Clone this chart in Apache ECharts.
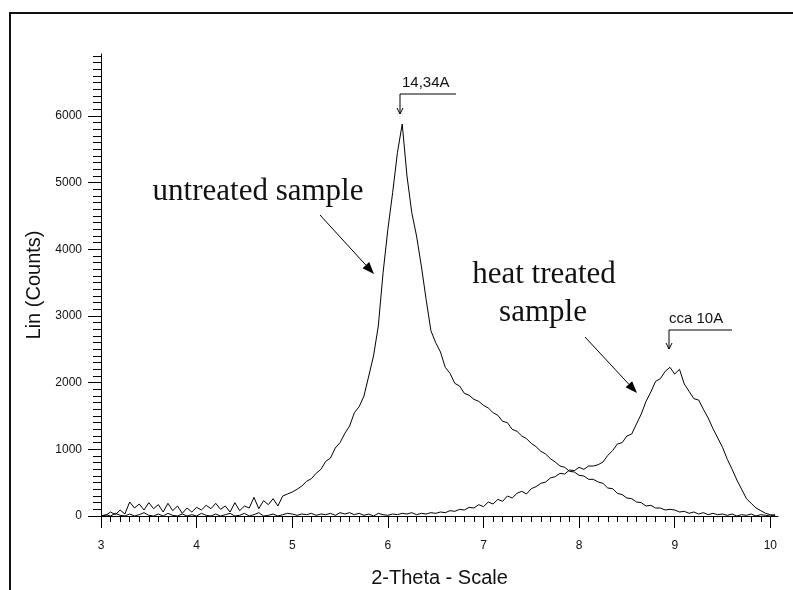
<!DOCTYPE html>
<html><head><meta charset="utf-8">
<script src="https://cdn.jsdelivr.net/npm/echarts@6/dist/echarts.min.js"></script>
<style>html,body{margin:0;padding:0;background:#fff}#c{width:793px;height:590px}</style>
</head><body><div id="c"></div><script>
// 2-theta scan grid
const scanStart = 3.0, scanStep = 0.05;
// Lin (Counts), one value per 0.05 deg, rows of 0.5 deg
const untreated = [
  0, 10, 60, 20, 90, 30, 210, 120, 180, 90,
  200, 110, 170, 60, 190, 80, 150, 40, 120, 60,
  130, 90, 160, 110, 190, 100, 150, 60, 200, 80,
  150, 120, 280, 110, 230, 170, 260, 150, 300, 330,
  360, 400, 450, 520, 560, 640, 700, 820, 870, 1020,
  1100, 1240, 1350, 1550, 1640, 1800, 2100, 2400, 2850, 3650,
  4300, 4850, 5450, 5880, 5100, 4550, 4200, 3750, 3250, 2780,
  2600, 2460, 2230, 2140, 1990, 1950, 1840, 1810, 1750, 1720,
  1660, 1620, 1550, 1510, 1420, 1400, 1300, 1270, 1200, 1160,
  1090, 1040, 970, 930, 860, 810, 750, 730, 670, 660,
  610, 600, 550, 550, 510, 490, 420, 410, 340, 320,
  270, 260, 210, 200, 150, 160, 120, 120, 90, 100,
  90, 60, 70, 40, 60, 30, 50, 20, 40, 20,
  30, 10, 30, 0, 20, 10, 30, 0, 20, 10,
  0, 20
];
const heatTreated = [
  0, 20, 0, 40, 10, 0, 30, 0, 20, 50,
  10, 0, 30, 0, 40, 10, 0, 30, 0, 20,
  0, 40, 10, 0, 30, 0, 20, 40, 0, 10,
  40, 0, 20, 50, 0, 10, 30, 0, 20, 40,
  30, 10, 30, 20, 40, 10, 30, 20, 40, 10,
  50, 30, 50, 20, 40, 10, 30, 0, 40, 20,
  10, 30, 20, 40, 30, 50, 20, 40, 30, 50,
  40, 60, 50, 80, 70, 100, 90, 130, 120, 170,
  140, 210, 180, 250, 220, 300, 270, 340, 370, 330,
  410, 440, 490, 510, 570, 590, 640, 630, 690, 680,
  730, 700, 750, 750, 770, 810, 910, 980, 1080, 1100,
  1200, 1230, 1380, 1530, 1720, 1860, 2020, 2060, 2170, 2230,
  2130, 2200, 1980, 1870, 1760, 1740, 1600, 1470, 1310, 1170,
  1030, 850, 700, 540, 400, 260, 190, 120, 80, 40,
  20, 10
];
const xTickValues = [3, 4, 5, 6, 7, 8, 9, 10];
const yTickValues = [0, 1000, 2000, 3000, 4000, 5000, 6000];
const xMinorValues = [];
for (let k = 31; k <= 100; k++) if (k % 10) xMinorValues.push(k / 10);
const yMinorValues = [];
for (let k = 1; k <= 69; k++) if (k % 10) yMinorValues.push(k * 100);

function toPairs(arr) { return arr.map((v, i) => [+(scanStart + i * scanStep).toFixed(2), v]); }

const SANS = "'Liberation Sans', Arial, sans-serif";
const SERIF = "'Liberation Serif', 'Times New Roman', serif";

function arrow(x1, y1, x2, y2, len, hw, filled) {
  const a = Math.atan2(y2 - y1, x2 - x1);
  const bx = x2 - len * Math.cos(a), by = y2 - len * Math.sin(a);
  const px = -Math.sin(a) * hw, py = Math.cos(a) * hw;
  const els = [{ type: 'line', shape: { x1, y1, x2: filled ? bx : x2, y2: filled ? by : y2 }, style: { stroke: '#000', lineWidth: 1 } }];
  if (filled) {
    els.push({ type: 'polygon', shape: { points: [[x2, y2], [bx + px, by + py], [bx - px, by - py]] }, style: { fill: '#000' } });
  } else {
    els.push({ type: 'polyline', shape: { points: [[bx + px, by + py], [x2, y2], [bx - px, by - py]] }, style: { stroke: '#000', lineWidth: 1, fill: 'none' } });
  }
  return els;
}

const chart = echarts.init(document.getElementById('c'), null, { renderer: 'canvas' });
chart.setOption({
  animation: false,
  backgroundColor: '#fff',
  grid: { left: 101, right: 15, top: 54, bottom: 74, containLabel: false, outerBoundsMode: 'none' },
  xAxis: [
    {
      type: 'value', min: 3, max: 10.08, position: 'bottom',
      axisLine: { show: true, onZero: false, lineStyle: { color: '#000', width: 1 } },
      axisTick: { show: true, customValues: xTickValues, length: 12, lineStyle: { color: '#000', width: 1 } },
      axisLabel: { customValues: xTickValues, margin: 24, color: '#111', fontFamily: SANS, fontSize: 12, formatter: v => String(v) },
      splitLine: { show: false },
      name: '2-Theta - Scale', nameLocation: 'middle', nameGap: 52,
      nameTextStyle: { fontFamily: SANS, fontSize: 20, color: '#111' }
    },
    {
      type: 'value', min: 3, max: 10.08, position: 'bottom',
      axisLine: { show: false, onZero: false },
      axisTick: { show: true, customValues: xMinorValues, length: 6, lineStyle: { color: '#000', width: 1 } },
      axisLabel: { show: false }, splitLine: { show: false }
    }
  ],
  yAxis: [
    {
      type: 'value', min: 0, max: 6930, position: 'left',
      axisLine: { show: true, onZero: false, lineStyle: { color: '#000', width: 1 } },
      axisTick: { show: true, customValues: yTickValues, length: 13, lineStyle: { color: '#000', width: 1 } },
      axisLabel: { customValues: yTickValues, margin: 19, color: '#111', fontFamily: SANS, fontSize: 12, formatter: v => String(v) },
      splitLine: { show: false },
      name: 'Lin (Counts)', nameLocation: 'middle', nameGap: 47, nameRotate: 90,
      nameTextStyle: { fontFamily: SANS, fontSize: 20, color: '#111' }
    },
    {
      type: 'value', min: 0, max: 6930, position: 'left',
      axisLine: { show: false, onZero: false },
      axisTick: { show: true, customValues: yMinorValues, length: 8, lineStyle: { color: '#000', width: 1 } },
      axisLabel: { show: false }, splitLine: { show: false }
    }
  ],
  series: [
    { name: 'untreated sample', type: 'line', xAxisIndex: 0, yAxisIndex: 0, data: toPairs(untreated), showSymbol: false, symbol: 'none', lineStyle: { color: '#000', width: 1 }, silent: true },
    { name: 'heat treated sample', type: 'line', xAxisIndex: 0, yAxisIndex: 0, data: toPairs(heatTreated), showSymbol: false, symbol: 'none', lineStyle: { color: '#000', width: 1 }, silent: true }
  ],
  graphic: [
    { type: 'rect', shape: { x: 10, y: 13, width: 800, height: 600 }, style: { fill: 'none', stroke: '#111', lineWidth: 2 }, silent: true },
    { type: 'text', style: { text: 'untreated sample', x: 258, y: 192, font: '31px ' + SERIF, fill: '#111', textAlign: 'center', textVerticalAlign: 'middle' } },
    { type: 'text', style: { text: 'heat treated', x: 544, y: 275, font: '31px ' + SERIF, fill: '#111', textAlign: 'center', textVerticalAlign: 'middle' } },
    { type: 'text', style: { text: 'sample', x: 543, y: 313, font: '31px ' + SERIF, fill: '#111', textAlign: 'center', textVerticalAlign: 'middle' } },
    ...arrow(320, 215, 374, 274, 12, 4.5, true),
    ...arrow(585, 337, 637, 393, 12, 4.5, true),
    { type: 'text', style: { text: '14,34A', x: 402, y: 83, font: '15px ' + SANS, fill: '#111', textAlign: 'left', textVerticalAlign: 'middle' } },
    { type: 'line', shape: { x1: 400, y1: 94, x2: 456, y2: 94 }, style: { stroke: '#000', lineWidth: 1 } },
    ...arrow(400, 94, 400, 114, 6, 3, false),
    { type: 'text', style: { text: 'cca 10A', x: 669, y: 319, font: '15px ' + SANS, fill: '#111', textAlign: 'left', textVerticalAlign: 'middle' } },
    { type: 'line', shape: { x1: 669, y1: 330, x2: 732, y2: 330 }, style: { stroke: '#000', lineWidth: 1 } },
    ...arrow(669, 330, 669, 349, 6, 3, false)
  ]
});
</script></body></html>
